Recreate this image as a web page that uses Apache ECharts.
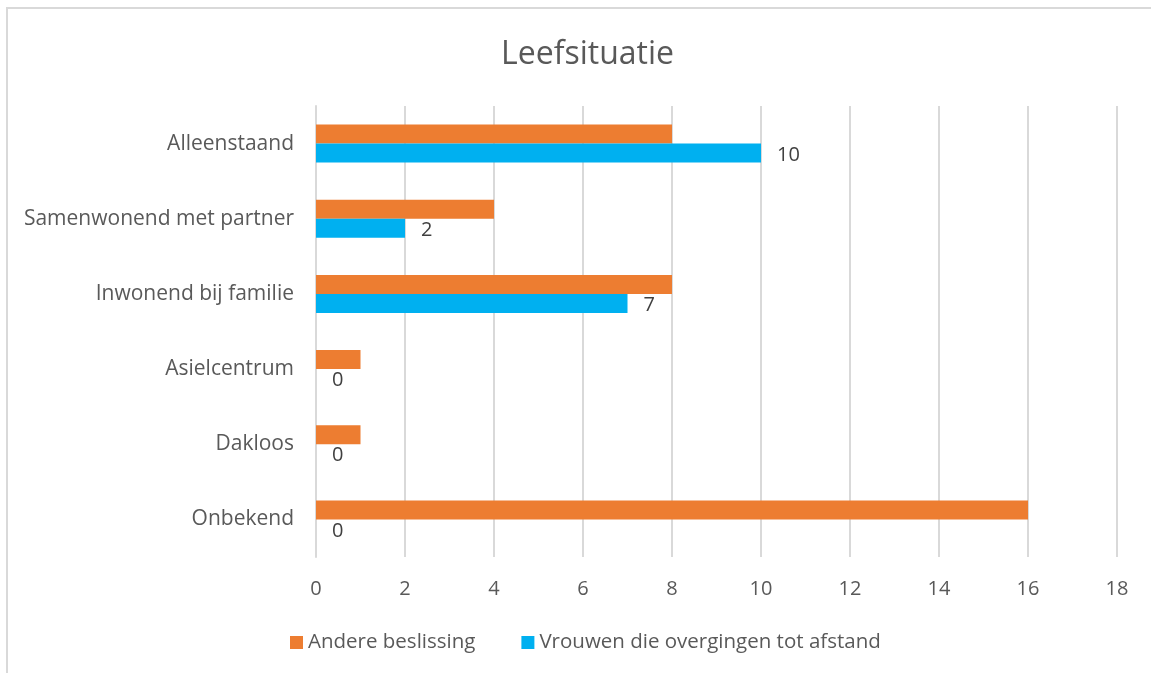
<!DOCTYPE html>
<html>
<head>
<meta charset="utf-8">
<script src="https://cdn.jsdelivr.net/npm/echarts@6/dist/echarts.min.js"></script>
<style>
  html, body { margin: 0; padding: 0; background: #fff; overflow: hidden; }
  #frame { position: absolute; left: 6px; top: 7px; width: 1200px; height: 700px; border-left: 2px solid #d9d9d9; border-top: 2px solid #d9d9d9; box-sizing: border-box; }
  #chart { position: absolute; left: 0; top: 0; width: 1151px; height: 673px; }
</style>
</head>
<body>
<div id="frame"></div>
<div id="chart"></div>
<script>
// Categories, top to bottom
const categories = ['Alleenstaand', 'Samenwonend met partner', 'Inwonend bij familie', 'Asielcentrum', 'Dakloos', 'Onbekend'];
const andereBeslissing = [8, 4, 8, 1, 1, 16];
const vrouwenAfstand = [10, 2, 7, 0, 0, 0];
const seriesNames = ['Andere beslissing', 'Vrouwen die overgingen tot afstand'];

const font = '"Open Sans", sans-serif';

const myChart = echarts.init(document.getElementById('chart'), null, { renderer: 'canvas' });

const option = {
    animation: false,
    title: {
        text: 'Leefsituatie',
        left: 496,
        top: 34,
        textStyle: { fontFamily: font, fontSize: 32, fontWeight: 'normal', color: '#595959' },
    },
    grid: { left: 316, right: 34, top: 106, bottom: 116 },
    legend: {
        bottom: 15,
        left: 285,
        itemWidth: 13,
        itemHeight: 13,
        itemGap: 46,
        icon: 'rect',
        textStyle: { fontFamily: font, fontSize: 20.5, color: '#595959' },
        data: seriesNames,
    },
    xAxis: {
        type: 'value',
        min: 0,
        max: 18,
        interval: 2,
        axisLine: { show: false },
        axisTick: { show: false },
        axisLabel: { fontFamily: font, fontSize: 20, color: '#595959', margin: 22 },
        splitLine: { lineStyle: { color: '#d9d9d9', width: 2 } },
    },
    yAxis: {
        type: 'category',
        inverse: true,
        data: categories,
        axisLine: { lineStyle: { color: '#d9d9d9', width: 2 } },
        axisTick: { show: false },
        axisLabel: { fontFamily: font, fontSize: 21, color: '#595959', margin: 22 },
    },
    series: [
        {
            name: seriesNames[0],
            type: 'bar',
            data: andereBeslissing,
            barWidth: 19,
            barGap: '0%',
            itemStyle: { color: '#ED7D31' },
        },
        {
            name: seriesNames[1],
            type: 'bar',
            data: vrouwenAfstand,
            barWidth: 19,
            barGap: '0%',
            itemStyle: { color: '#00B0F0' },
            label: {
                show: true,
                position: 'right',
                distance: 16,
                offset: [0, 2],
                fontFamily: font,
                fontSize: 20,
                color: '#404040',
            },
        },
    ],
};

myChart.setOption(option);
</script>
</body>
</html>
